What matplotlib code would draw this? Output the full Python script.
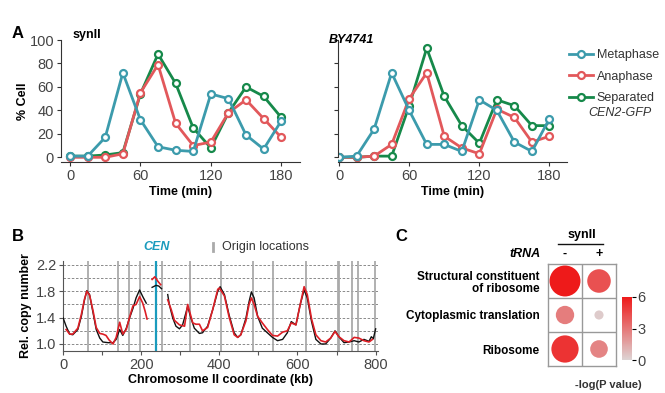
import matplotlib.pyplot as plt
import numpy as np
from matplotlib.lines import Line2D
from matplotlib.colors import LinearSegmentedColormap

plt.rcParams['font.family'] = ['Liberation Sans Narrow', 'Liberation Sans', 'DejaVu Sans']

# ---- Panel A: % cells over time ----
time = [0, 15, 30, 45, 60, 75, 90, 105, 120, 135, 150, 165, 180]

synii_meta = [1, 1, 17, 72, 32, 9, 6, 5, 54, 50, 19, 7, 31]
synii_ana = [0, 0, 0, 3, 55, 79, 29, 10, 13, 38, 49, 33, 17]
synii_sep = [1, 1, 2, 4, 54, 88, 63, 25, 8, 38, 60, 52, 34]

by_meta = [0, 1, 24, 72, 40, 11, 11, 5, 49, 40, 13, 5, 33]
by_ana = [0, 0, 1, 11, 50, 72, 18, 8, 3, 41, 34, 13, 18]
by_sep = [0, 0, 1, 1, 44, 93, 52, 27, 12, 49, 44, 27, 27]

# ---- Panel B: relative copy number along chromosome II ----
seg1_kb_k = [0, 8, 17, 25, 38, 47, 55, 61, 68, 77, 85, 94, 102, 115, 128, 136, 145, 153, 162, 170, 179, 187, 196, 204, 213]
seg1_black = [1.40, 1.27, 1.15, 1.14, 1.22, 1.42, 1.67, 1.81, 1.75, 1.47, 1.22, 1.09, 1.03, 1.02, 1.02, 1.07, 1.22, 1.13, 1.24, 1.39, 1.54, 1.70, 1.82, 1.72, 1.62]
seg1_kb_r = [8, 17, 25, 38, 47, 55, 61, 68, 77, 85, 94, 102, 110, 118, 128, 136, 145, 153, 162, 170, 179, 187, 196, 204, 210, 215]
seg1_red = [1.22, 1.15, 1.15, 1.24, 1.45, 1.68, 1.80, 1.74, 1.50, 1.25, 1.16, 1.15, 1.13, 1.06, 1.00, 1.10, 1.33, 1.15, 1.22, 1.40, 1.58, 1.60, 1.72, 1.62, 1.50, 1.38]

cen_kb_k = [228, 238, 245, 252]
cen_black = [1.86, 1.89, 1.88, 1.84]
cen_kb_r = [228, 235, 243, 250]
cen_red = [1.98, 2.02, 1.95, 1.90]

seg3_kb_k = [268, 272, 281, 289, 298, 306, 319, 327, 336, 349, 357, 370, 383, 396, 402, 413, 425, 438, 447, 455, 468, 476, 482, 489, 498, 510, 523, 536, 549, 562, 574, 584, 596, 607, 617, 625, 636, 647, 660, 672, 685, 696, 706, 719, 732, 745, 757, 770, 783, 789, 794, 800]
seg3_black = [1.75, 1.60, 1.39, 1.27, 1.23, 1.29, 1.57, 1.40, 1.24, 1.16, 1.17, 1.27, 1.52, 1.80, 1.87, 1.75, 1.44, 1.17, 1.10, 1.14, 1.39, 1.64, 1.79, 1.70, 1.42, 1.24, 1.17, 1.10, 1.05, 1.07, 1.17, 1.34, 1.29, 1.60, 1.82, 1.70, 1.34, 1.07, 1.00, 1.00, 1.09, 1.20, 1.11, 1.02, 1.03, 1.05, 1.03, 1.07, 1.04, 1.11, 1.08, 1.23]
seg3_kb_r = [268, 277, 285, 298, 311, 319, 332, 340, 349, 357, 370, 383, 396, 400, 413, 425, 438, 447, 455, 468, 476, 482, 489, 498, 510, 523, 536, 549, 562, 574, 584, 596, 607, 617, 625, 636, 647, 660, 672, 685, 696, 706, 719, 732, 745, 757, 770, 783, 792]
seg3_red = [1.67, 1.52, 1.36, 1.29, 1.27, 1.60, 1.32, 1.30, 1.30, 1.20, 1.25, 1.52, 1.83, 1.85, 1.73, 1.41, 1.14, 1.10, 1.14, 1.35, 1.60, 1.70, 1.60, 1.42, 1.32, 1.22, 1.13, 1.12, 1.18, 1.20, 1.32, 1.29, 1.60, 1.87, 1.75, 1.38, 1.14, 1.05, 1.03, 1.09, 1.19, 1.11, 1.05, 1.03, 1.10, 1.09, 1.05, 1.03, 1.07]

origins = [63, 141, 168, 198, 253, 326, 403, 487, 537, 622, 703, 707, 740, 756, 798]
cen_pos = 238

# ---- Panel C: GO enrichment ----
terms = ['Structural constituent\nof ribosome', 'Cytoplasmic translation', 'Ribosome']
trna_cols = ['-', '+']
logp_minus = [6.2, 2.8, 5.2]
logp_plus = [4.2, 0.3, 2.6]

teal = '#3c9bac'
red = '#e2585b'
green = '#16894a'
tick_col = '#444444'

fig = plt.figure(figsize=(6.65, 3.93), dpi=100)


def px(x0, y0, x1, y1):
    # pixel box -> figure rect
    return [x0 / 665, 1 - y1 / 393, (x1 - x0) / 665, (y1 - y0) / 393]


def panel_a(ax, meta, ana, sep, xlim, labels):
    kw = dict(marker='o', ms=5, mfc='white', mew=1.6, lw=2)
    ax.plot(time, sep, color=green, label='Separated', **kw)
    ax.plot(time, ana, color=red, label='Anaphase', **kw)
    ax.plot(time, meta, color=teal, label='Metaphase', **kw)
    ax.set_xlim(*xlim)
    ax.set_ylim(-4, 100)
    ax.spines[['top', 'right']].set_visible(False)
    ax.spines['left'].set_bounds(0, 100)
    for s in ('left', 'bottom'):
        ax.spines[s].set_color('#333333')
        ax.spines[s].set_linewidth(0.8)
    ax.set_xticks([0, 60, 120, 180])
    ax.set_yticks(np.arange(0, 101, 20))
    ax.tick_params(labelsize=10.5, colors='#333333', labelcolor=tick_col, length=3, width=0.8, pad=2)
    if not labels:
        ax.set_yticklabels([])
    ax.set_xlabel('Time (min)', fontsize=9, fontweight='bold', labelpad=2)


ax1 = fig.add_axes(px(61, 40, 300, 162))
panel_a(ax1, synii_meta, synii_ana, synii_sep, (-7.7, 196), True)
ax1.set_ylabel('% Cell', fontsize=9, fontweight='bold', labelpad=0)
ax1.text(0.05, 1.04, 'synII', transform=ax1.transAxes, fontsize=9, fontweight='bold', va='center')

ax2 = fig.add_axes(px(338, 40, 567, 162))
panel_a(ax2, by_meta, by_ana, by_sep, (-0.9, 195), False)
ax2.text(-0.04, 1.0, 'BY4741', transform=ax2.transAxes, fontsize=9, fontweight='bold', style='italic', va='center')

h, l = ax2.get_legend_handles_labels()
leg = fig.legend(h[::-1], l[::-1], loc='upper left', bbox_to_anchor=(558 / 665, 1 - 38 / 393),
                 frameon=False, fontsize=9, handlelength=1.9, handletextpad=0.3, labelspacing=0.75)
for t in leg.get_texts():
    t.set_color('#333333')
fig.text(588 / 665, 1 - 113 / 393, 'CEN2-GFP', fontsize=9, style='italic', color='#333333', va='center')

fig.text(12 / 665, 1 - 33 / 393, 'A', fontsize=12, fontweight='bold', va='center')

# ---- Panel B ----
axb = fig.add_axes(px(63, 261, 378, 350.7))
for y in np.arange(1.0, 2.21, 0.2):
    axb.axhline(y, color='#777777', lw=0.6, ls=(0, (3, 2)), zorder=1)
for o in origins:
    axb.axvline(o, color='#aaaaaa', lw=1.3, zorder=1)
axb.axvline(cen_pos, color='#1a9bbd', lw=1.6, zorder=2)
axb.plot(seg1_kb_k, seg1_black, color='#111111', lw=1.0, zorder=3)
axb.plot(cen_kb_k, cen_black, color='#111111', lw=1.0, zorder=3)
axb.plot(seg3_kb_k, seg3_black, color='#111111', lw=1.0, zorder=3)
axb.plot(seg1_kb_r, seg1_red, color='#dd1f26', lw=1.2, zorder=4)
axb.plot(cen_kb_r, cen_red, color='#dd1f26', lw=1.2, zorder=4)
axb.plot(seg3_kb_r, seg3_red, color='#dd1f26', lw=1.2, zorder=4)
axb.set_xlim(0, 806)
axb.set_ylim(0.898, 2.26)
axb.spines[['top', 'right']].set_visible(False)
for s in ('left', 'bottom'):
    axb.spines[s].set_color('#555555')
    axb.spines[s].set_linewidth(0.8)
axb.set_xticks([0, 200, 400, 600, 800])
axb.set_xticks([100, 300, 500, 700], minor=True)
axb.set_yticks([1.0, 1.4, 1.8, 2.2])
axb.tick_params(labelsize=10.5, colors='#555555', labelcolor=tick_col, length=3, width=0.8, pad=2)
axb.tick_params(which='minor', length=3, width=0.8, colors='#555555')
axb.set_xlabel('Chromosome II coordinate (kb)', fontsize=9, fontweight='bold', labelpad=2)
axb.set_ylabel('Rel. copy number', fontsize=9, fontweight='bold', labelpad=3)

fig.text(12 / 665, 1 - 236 / 393, 'B', fontsize=12, fontweight='bold', va='center')
fig.text(157 / 665, 1 - 247 / 393, 'CEN', fontsize=9, fontweight='bold', style='italic', color='#1a9bbd',
         ha='center', va='center')
fig.add_artist(Line2D([213 / 665] * 2, [1 - 251 / 393, 1 - 243 / 393], color='#aaaaaa', lw=2))
fig.text(222 / 665, 1 - 247 / 393, 'Origin locations', fontsize=9, color='#333333', va='center')

# ---- Panel C ----
cmap = LinearSegmentedColormap.from_list('pv', ['#ddd4d4', '#ee1a1a'])
axc = fig.add_axes(px(548, 264, 616, 366))
rows = np.arange(len(terms)) + 0.5
vals = np.array([logp_minus, logp_plus]).T
xs, ys, cs = [], [], []
for i in range(len(terms)):
    for j in range(len(trna_cols)):
        xs.append(j + 0.5)
        ys.append(rows[i])
        cs.append(vals[i, j])
cs = np.array(cs)
diam_px = 8 + 3.7 * cs
sc = axc.scatter(xs, ys, s=(diam_px * 72 / 100) ** 2, c=cs, cmap=cmap, vmin=0, vmax=6, lw=0, zorder=3)
axc.set_xlim(0, 2)
axc.set_ylim(3, 0)
for v in (1, 2):
    axc.axhline(v, color='#999999', lw=1)
axc.axvline(1, color='#999999', lw=1)
for s in axc.spines.values():
    s.set_color('#999999')
    s.set_linewidth(1)
axc.set_xticks([])
axc.set_yticks(rows)
axc.set_yticklabels(terms, fontsize=8.5, fontweight='bold', linespacing=1.1)
axc.tick_params(axis='y', length=0, pad=6)
for t in axc.get_yticklabels():
    t.set_multialignment('right')
for j, lab in enumerate(trna_cols):
    axc.text(j + 0.5, -0.3, lab, ha='center', va='center', fontsize=9, fontweight='bold')
axc.text(-0.23, -0.3, 'tRNA', ha='right', va='center', fontsize=9, fontweight='bold', style='italic')
axc.text(1.0, -0.85, 'synII', ha='center', va='center', fontsize=9, fontweight='bold')
axc.plot([0.3, 1.62], [-0.58, -0.58], color='#111111', lw=1, clip_on=False)

cax = fig.add_axes(px(622, 297, 632, 360))
cb = fig.colorbar(sc, cax=cax, ticks=[0, 3, 6])
cb.outline.set_visible(False)
cax.tick_params(labelsize=10.5, labelcolor=tick_col, length=3, width=0.8, pad=1)
fig.text(608 / 665, 1 - 385 / 393, '-log(P value)', fontsize=8, fontweight='bold', ha='center', va='center',
         color='#333333')

fig.text(395 / 665, 1 - 236 / 393, 'C', fontsize=12, fontweight='bold', va='center')

fig.savefig('out.png', dpi=100)
